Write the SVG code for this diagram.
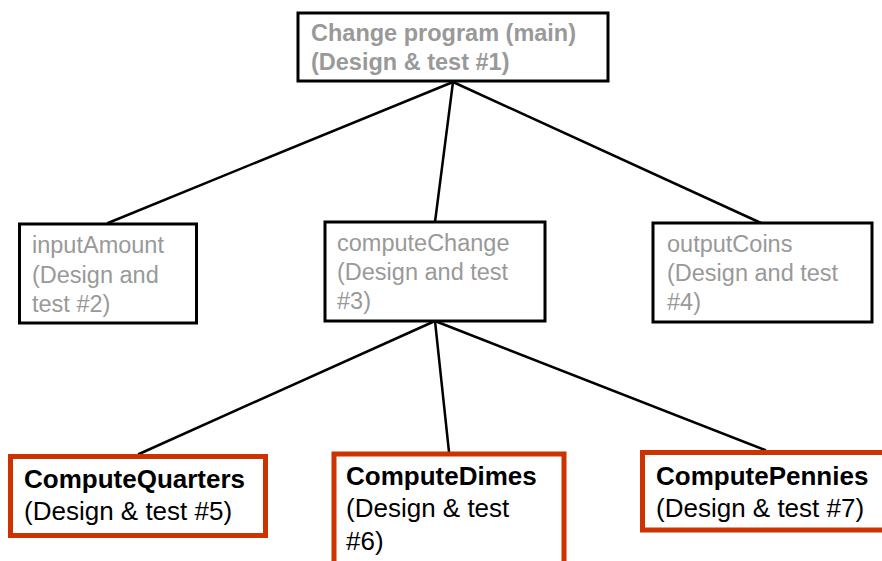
<svg xmlns="http://www.w3.org/2000/svg" width="882" height="561" viewBox="0 0 882 561">
<style>
.conn{stroke:#000;stroke-width:2.5;fill:none;stroke-linecap:round}
.box{fill:#fff;stroke:#000;stroke-width:3}
.rbox{fill:#fff;stroke:#cc3300;stroke-width:5}
.gray{font-family:"Liberation Sans",Arial,sans-serif;fill:#999;font-size:23.5px}
.top{font-family:"Liberation Sans",Arial,sans-serif;fill:#999;font-size:23.5px;font-weight:bold}
.blk{font-family:"Liberation Sans",Arial,sans-serif;fill:#000;font-size:26px}
.b{font-weight:bold}
</style>
<rect width="882" height="561" fill="#fff"/>
<g id="connectors">
<line class="conn" x1="453" y1="82" x2="108" y2="223"/>
<line class="conn" x1="453" y1="82" x2="435" y2="222"/>
<line class="conn" x1="453" y1="82" x2="761" y2="223"/>
<line class="conn" x1="435" y1="321" x2="139" y2="454"/>
<line class="conn" x1="435" y1="321" x2="449" y2="452"/>
<line class="conn" x1="435" y1="321" x2="765" y2="450"/>
</g>
<g id="main">
<rect class="box" x="298" y="13" width="310" height="68"/>
<text class="top" x="311" y="41">Change program (main)</text>
<text class="top" x="311" y="70">(Design &amp; test #1)</text>
</g>
<g id="inputAmount">
<rect class="box" x="19.5" y="224" width="177" height="99"/>
<text class="gray" x="32" y="253">inputAmount</text>
<text class="gray" x="32" y="283">(Design and</text>
<text class="gray" x="32" y="312">test #2)</text>
</g>
<g id="computeChange">
<rect class="box" x="325" y="222" width="220" height="99"/>
<text class="gray" x="337" y="251">computeChange</text>
<text class="gray" x="337" y="280">(Design and test</text>
<text class="gray" x="337" y="309">#3)</text>
</g>
<g id="outputCoins">
<rect class="box" x="653" y="223" width="219" height="99"/>
<text class="gray" x="667" y="252">outputCoins</text>
<text class="gray" x="667" y="281">(Design and test</text>
<text class="gray" x="667" y="310">#4)</text>
</g>
<g id="computeQuarters">
<rect class="rbox" x="10.5" y="456.5" width="255" height="79"/>
<text class="blk b" x="24" y="488">ComputeQuarters</text>
<text class="blk" x="24" y="520">(Design &amp; test #5)</text>
</g>
<g id="computeDimes">
<rect class="rbox" x="334" y="454" width="230" height="130"/>
<text class="blk b" x="346" y="485">ComputeDimes</text>
<text class="blk" x="346" y="517">(Design &amp; test</text>
<text class="blk" x="346" y="550">#6)</text>
</g>
<g id="computePennies">
<rect class="rbox" x="642.5" y="452.5" width="260" height="77.5"/>
<text class="blk b" x="656" y="485">ComputePennies</text>
<text class="blk" x="656" y="517">(Design &amp; test #7)</text>
</g>
</svg>
